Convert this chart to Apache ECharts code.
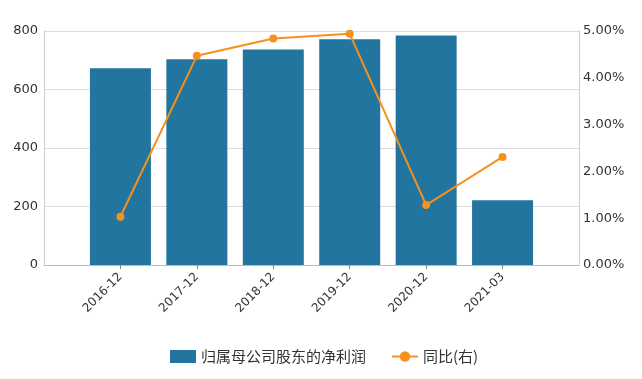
<!DOCTYPE html>
<html><head><meta charset="utf-8">
<script src="https://cdn.jsdelivr.net/npm/echarts@6/dist/echarts.min.js"></script>
<style>html,body{margin:0;padding:0;background:#fff}#c{width:642px;height:379px}</style>
</head><body><div id="c"></div>
<script>
const categories = ['', '2016-12', '2017-12', '2018-12', '2019-12', '2020-12', '2021-03', ''];
const profit = [null, 673, 703, 737, 772, 785, 221, null];
const yoy = [null, 1.03, 4.47, 4.84, 4.94, 1.28, 2.31, null];
const leftTicks = [0, 200, 400, 600, 800];
const rightTicks = [0, 1, 2, 3, 4, 5];

const chart = echarts.init(document.getElementById('c'));
const font = '"DejaVu Sans", "Noto Sans CJK SC", sans-serif';
chart.setOption({
  animation: false,
  textStyle: {fontFamily: font},
  grid: {left: 44, right: 63, top: 31, bottom: 114, containLabel: false},
  legend: {
    top: 344, left: 165, itemGap: 25, itemWidth: 26, itemHeight: 13,
    textStyle: {fontSize: 15, color: '#333', fontFamily: '"Noto Sans CJK SC", sans-serif'},
    data: [{name: '归属母公司股东的净利润', icon: 'rect'}, {name: '同比(右)'}]
  },
  xAxis: {
    type: 'category', data: categories, boundaryGap: false,
    axisLine: {lineStyle: {color: '#bbb'}},
    axisTick: {show: true, interval: (i, v) => v !== '', lineStyle: {color: '#888'}, length: 4},
    axisLabel: {rotate: 45, fontSize: 12, color: '#333', interval: 0, margin: 10}
  },
  yAxis: [{
    type: 'value', min: leftTicks[0], max: leftTicks[leftTicks.length - 1], interval: 200,
    axisLine: {show: true, lineStyle: {color: '#ccc'}},
    axisTick: {show: false},
    axisLabel: {fontSize: 13, color: '#333', margin: 6},
    splitLine: {lineStyle: {color: '#ddd'}}
  }, {
    type: 'value', min: rightTicks[0], max: rightTicks[rightTicks.length - 1], interval: 1,
    axisLine: {show: true, lineStyle: {color: '#ccc'}},
    axisTick: {show: false},
    axisLabel: {fontSize: 13, color: '#333', margin: 4, formatter: v => v.toFixed(2) + '%'},
    splitLine: {show: false}
  }],
  series: [{
    name: '归属母公司股东的净利润', type: 'bar', data: profit, barWidth: 61,
    itemStyle: {color: '#22759f'}
  }, {
    name: '同比(右)', type: 'line', yAxisIndex: 1, data: yoy,
    symbol: 'circle', symbolSize: 8, connectNulls: false,
    lineStyle: {color: '#f5911e', width: 2}, itemStyle: {color: '#f5911e'}
  }]
});
</script></body></html>
